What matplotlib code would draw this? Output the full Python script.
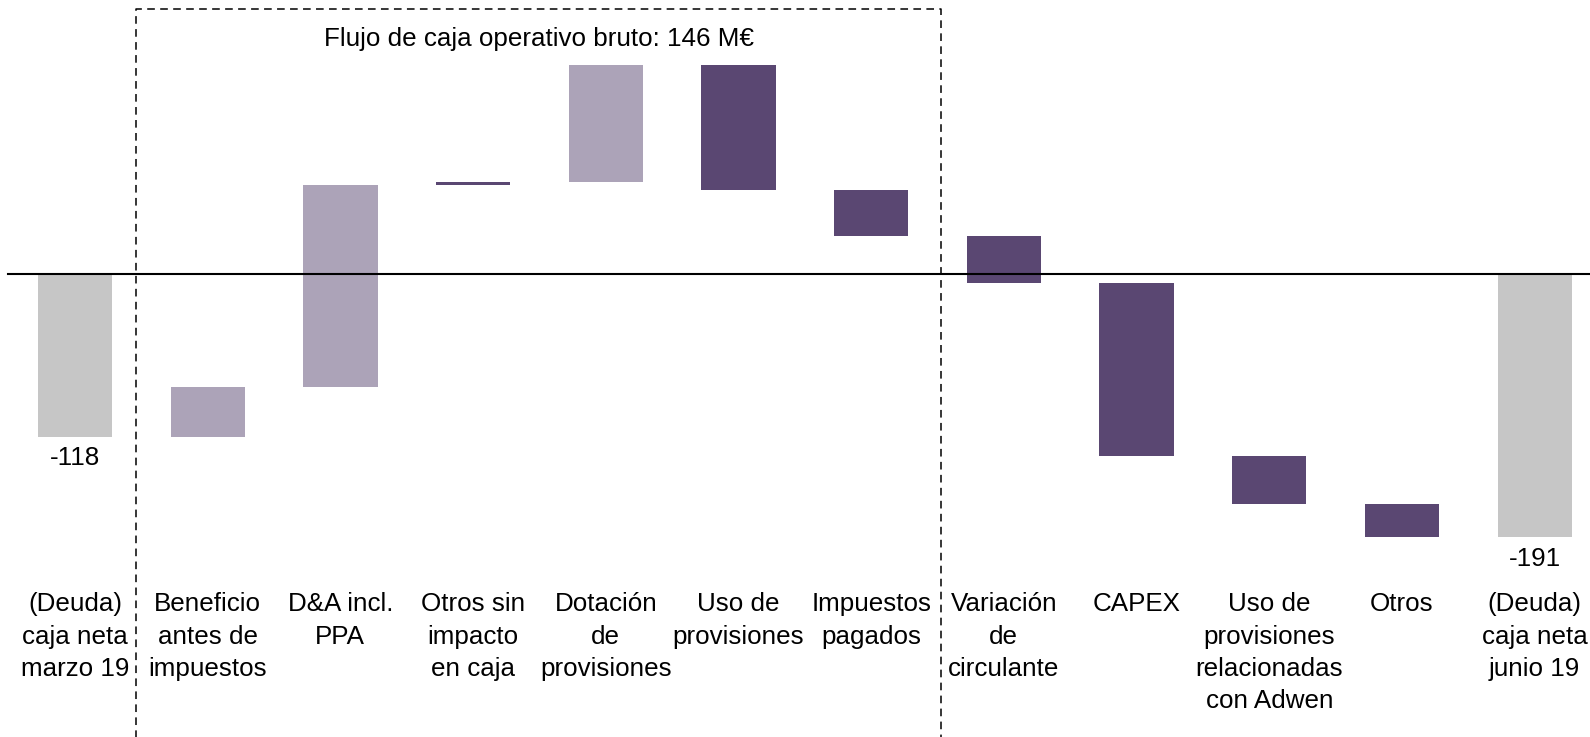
import numpy as np
import matplotlib.pyplot as plt

plt.rcParams['font.family'] = ['Liberation Sans', 'DejaVu Sans']

# Waterfall data (M€)
categories = [
    "(Deuda)\ncaja neta\nmarzo 19",
    "Beneficio\nantes de\nimpuestos",
    "D&A incl.\nPPA",
    "Otros sin\nimpacto\nen caja",
    "Dotación\nde\nprovisiones",
    "Uso de\nprovisiones",
    "Impuestos\npagados",
    "Variación\nde\ncirculante",
    "CAPEX",
    "Uso de\nprovisiones\nrelacionadas\ncon Adwen",
    "Otros",
    "(Deuda)\ncaja neta\njunio 19",
]
start_value = -118
deltas = [36, 147, 2, 85, -91, -33, -34, -126, -35, -24]
end_value = -191
bar_kind = ['total', 'light', 'light', 'dark', 'light', 'dark', 'dark',
            'dark', 'dark', 'dark', 'dark', 'total']
box_title = "Flujo de caja operativo bruto: 146 M€"

colors = {'total': '#C6C6C6', 'light': '#ACA3B8', 'dark': '#5A4772'}
fs = 18.7

# bottoms / heights of each bar
bottoms, heights = [min(0, start_value)], [abs(start_value)]
level = start_value
for d in deltas:
    new = level + d
    bottoms.append(min(level, new))
    heights.append(abs(d))
    level = new
bottoms.append(min(0, end_value))
heights.append(abs(end_value))

fig = plt.figure(figsize=(15.9, 7.37), dpi=100)
ax = fig.add_axes([0, 0, 1, 1])
x = np.arange(len(categories))

ax.bar(x, heights, bottom=bottoms, width=0.56,
       color=[colors[k] for k in bar_kind], zorder=2)

# zero line
ax.plot([-0.505, 11.5], [0, 0], color='black', lw=1.5, zorder=3)

# dashed box around operating cash flow
ax.plot([0.46, 0.46, 6.53, 6.53], [-400, 193, 193, -400], color='black',
        lw=1.1, linestyle=(0, (5, 3.5)), zorder=1)
ax.text(3.5, 171, box_title, ha='center', va='center', fontsize=fs)

# value labels for totals
ax.text(x[0], start_value - 7, f"{start_value}", ha='center', va='top', fontsize=fs)
ax.text(x[-1], end_value - 7, f"{end_value}", ha='center', va='top', fontsize=fs)

# category labels
for xi, cat in zip(x, categories):
    ax.text(xi, -231, cat, ha='center', va='top', fontsize=fs, linespacing=1.43)

ax.set_xlim(-0.565, 11.417)
ax.set_ylim(-336, 199.2)
ax.axis('off')

fig.savefig('out.png', dpi=100)
